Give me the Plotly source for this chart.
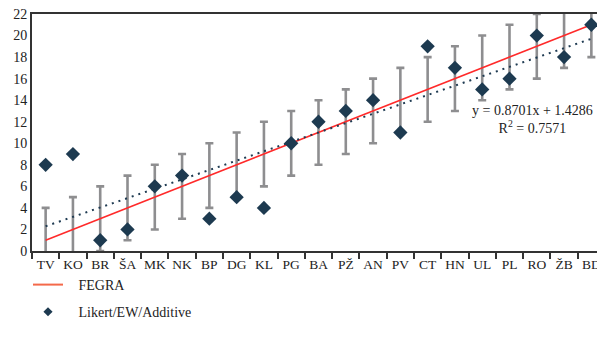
import numpy as np
import plotly.graph_objects as go

categories = ["TV", "KO", "BR", "ŠA", "MK", "NK", "BP", "DG", "KL", "PG", "BA",
              "PŽ", "AN", "PV", "CT", "HN", "UL", "PL", "RO", "ŽB", "BD"]
fegra = [1, 2, 3, 4, 5, 6, 7, 8, 9, 10, 11, 12, 13, 14, 15, 16, 17, 18, 19, 20, 21]
likert = [8, 9, 1, 2, 6, 7, 3, 5, 4, 10, 12, 13, 14, 11, 19, 17, 15, 16, 20, 18, 21]
error_spread = [3] * len(categories)
y_ticks = list(range(0, 23, 2))

# linear trend of Likert ranks vs. position
xi = np.arange(1, len(categories) + 1)
slope, intercept = np.polyfit(xi, likert, 1)
trend = slope * xi + intercept
r2 = np.corrcoef(xi, likert)[0, 1] ** 2

FONT = "Liberation Serif, DejaVu Serif, serif"
PAD = "\u00a0\u00a0\u00a0"

# page body has an 8px default margin, so the figure is 8px smaller
W, H = 597, 341

fig = go.Figure()

fig.add_trace(go.Scatter(
    x=categories, y=fegra, mode="markers",
    marker=dict(opacity=0, size=1),
    error_y=dict(type="data", array=error_spread, symmetric=True,
                 color="#8e8e90", thickness=2.6, width=4),
    showlegend=False, hoverinfo="skip"))

fig.add_trace(go.Scatter(
    x=categories, y=fegra, mode="lines",
    line=dict(color="#ff2a2a", width=1.6),
    showlegend=False))

fig.add_trace(go.Scatter(
    x=categories, y=trend, mode="lines",
    line=dict(color="#1f3b52", width=2, dash="2px,5px"),
    showlegend=False))

fig.add_trace(go.Scatter(
    x=categories, y=likert, mode="markers",
    marker=dict(symbol="diamond", size=11, color="#1d3a50"),
    showlegend=False))

# legend entries
fig.add_trace(go.Scatter(
    x=[None], y=[None], mode="lines", name=PAD + "FEGRA",
    line=dict(color="#f4694a", width=2), legendgroup="a"))
fig.add_trace(go.Scatter(
    x=[None], y=[None], mode="markers", name=PAD + "Likert/EW/Additive",
    marker=dict(symbol="diamond", size=7, color="#1d3a50"), legendgroup="b"))

fig.add_annotation(
    xref="paper", yref="paper", x=0.874, y=0.555,
    xanchor="center", yanchor="middle",
    text=f"y = {slope:.4f}x + {intercept:.4f}<br>R<sup>2</sup> = {r2:.4f}",
    showarrow=False, align="center",
    font=dict(family=FONT, size=14, color="#222"))

fig.update_layout(
    width=W, height=H,
    margin=dict(l=24, r=0, t=6, b=98, autoexpand=False),
    paper_bgcolor="white", plot_bgcolor="white",
    font=dict(family=FONT, size=14, color="#222"),
    xaxis=dict(type="category", range=[-0.5, len(categories) - 0.5],
               tickson="boundaries", ticks="outside", ticklen=6, tickwidth=1.5,
               tickcolor="#333", showline=True, linecolor="#333", linewidth=2,
               mirror=True, showgrid=False, zeroline=False, tickangle=0,
               automargin=False, ticklabeloverflow="allow",
               tickfont=dict(family=FONT, size=13.5, color="#222")),
    yaxis=dict(range=[0, 22], tickvals=y_ticks, showline=True, linecolor="#333",
               linewidth=2, showgrid=False, zeroline=False, ticks="",
               automargin=False, ticklabeloverflow="allow",
               tickfont=dict(family=FONT, size=14, color="#222")),
    legend=dict(xref="container", yref="container", x=20 / W, y=1 - 261 / H,
                xanchor="left", yanchor="top",
                orientation="v", traceorder="grouped", tracegroupgap=6,
                font=dict(family=FONT, size=14, color="#222"),
                bgcolor="rgba(0,0,0,0)"),
)

fig.write_html("out.html")
